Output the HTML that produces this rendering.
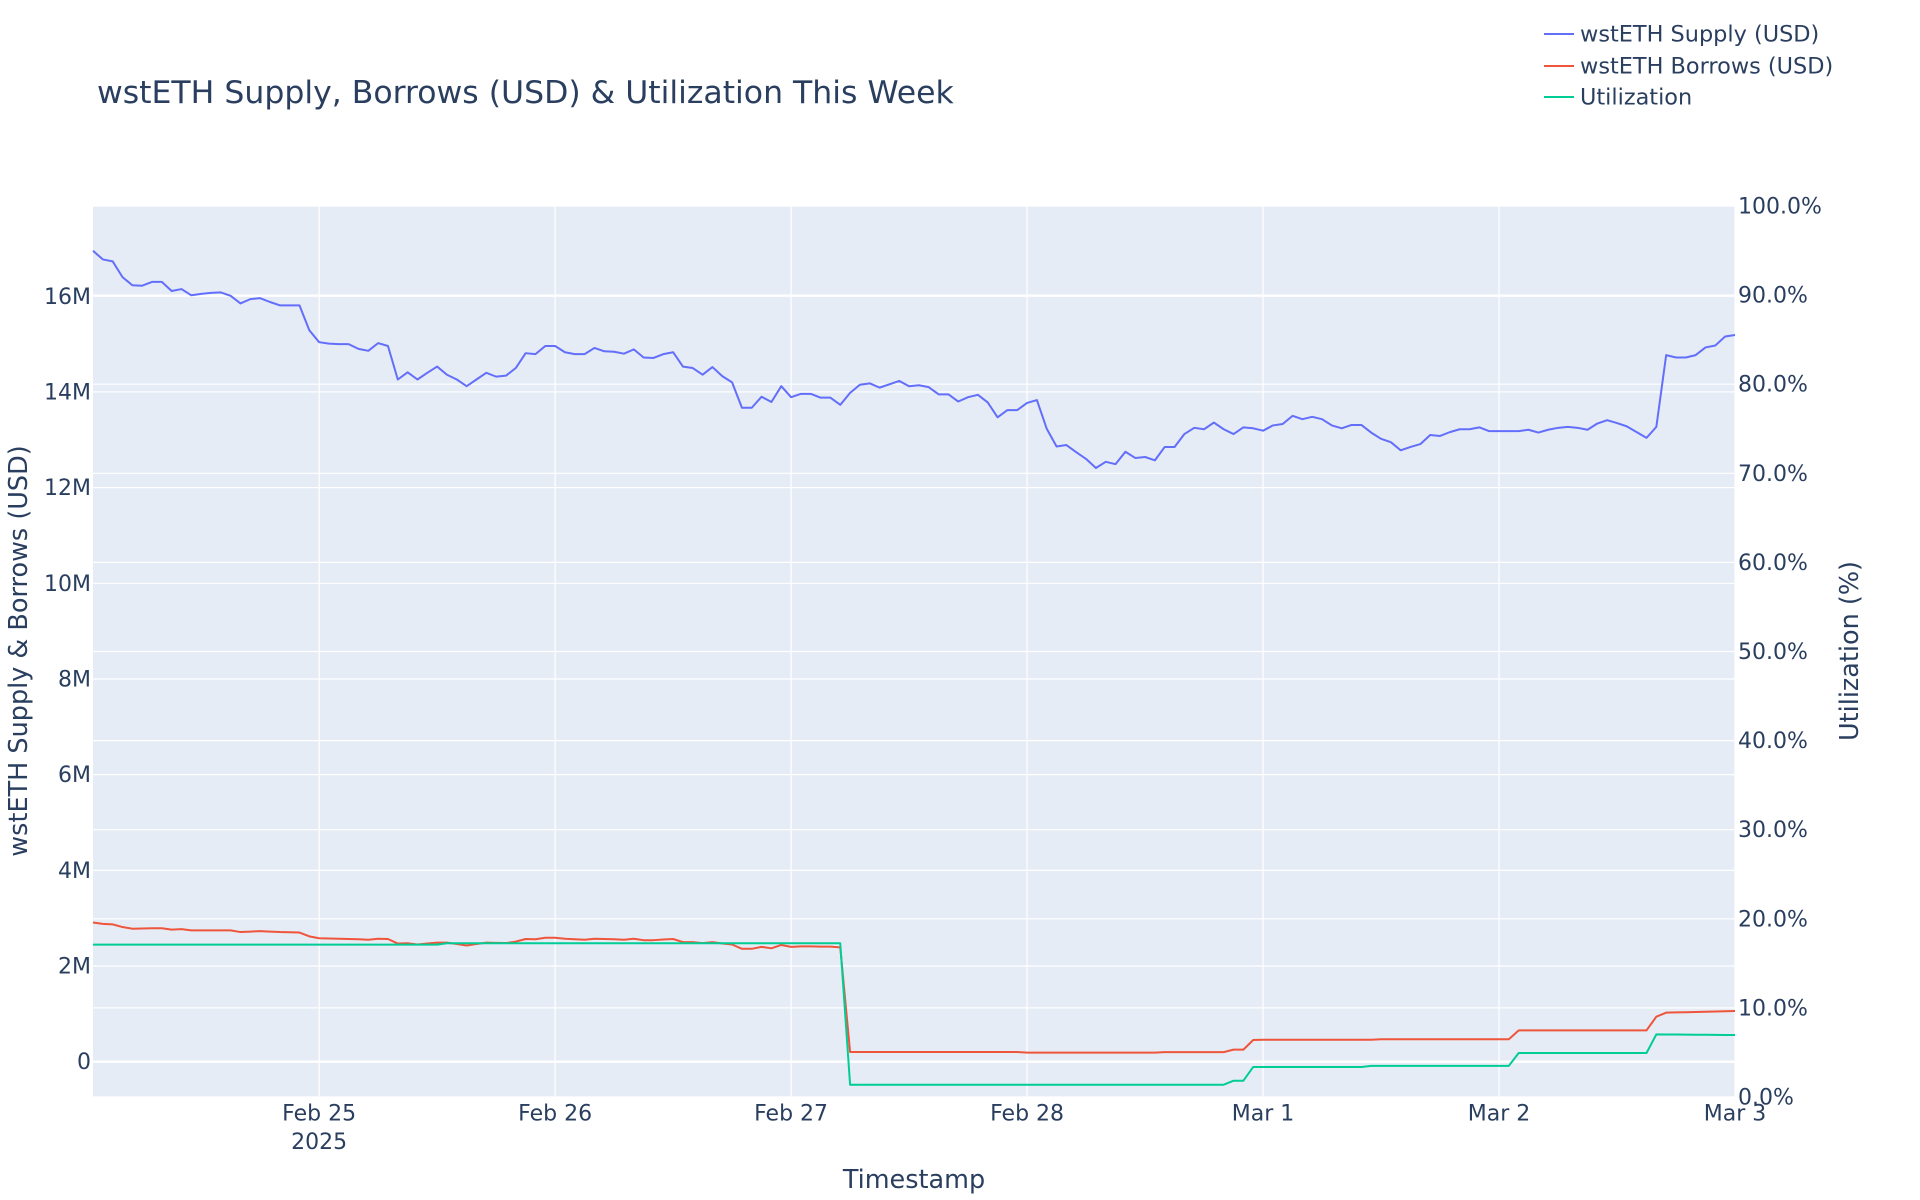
<!DOCTYPE html>
<html><head><meta charset="utf-8"><title>wstETH Supply, Borrows & Utilization</title>
<style>
html,body{margin:0;padding:0;background:#fff;}
svg{display:block;font-family:"DejaVu Sans","Liberation Sans",Arial,sans-serif;}
</style></head>
<body>
<svg id="chart" width="1920" height="1200" viewBox="0 0 1920 1200" xmlns="http://www.w3.org/2000/svg">
  <rect x="0" y="0" width="1920" height="1200" fill="#fff"/>
  <rect x="93" y="206" width="1642" height="891" fill="#E5ECF6"/>
  <g id="grid"></g>
  <g id="series"></g>
  <g id="axes"></g>
  <text x="97" y="103" font-size="31.5" fill="#2a3f5f">wstETH Supply, Borrows (USD) &amp; Utilization This Week</text>
  <text x="914" y="1188" font-size="25.5" fill="#2a3f5f" text-anchor="middle">Timestamp</text>
  <text x="0" y="0" font-size="25.5" fill="#2a3f5f" text-anchor="middle" transform="translate(27,651) rotate(-90)">wstETH Supply &amp; Borrows (USD)</text>
  <text x="0" y="0" font-size="25.5" fill="#2a3f5f" text-anchor="middle" transform="translate(1858,651) rotate(-90)">Utilization (%)</text>
  <g>
    <g>
      <line x1="1544" y1="34" x2="1574" y2="34" stroke="#636efa" stroke-width="2"/>
      <text x="1580" y="41.5" font-size="22.4" fill="#2a3f5f">wstETH Supply (USD)</text>
    </g>
    <g>
      <line x1="1544" y1="66" x2="1574" y2="66" stroke="#EF553B" stroke-width="2"/>
      <text x="1580" y="73.5" font-size="22.4" fill="#2a3f5f">wstETH Borrows (USD)</text>
    </g>
    <g>
      <line x1="1544" y1="97" x2="1574" y2="97" stroke="#00cc96" stroke-width="2"/>
      <text x="1580" y="104.5" font-size="22.4" fill="#2a3f5f">Utilization</text>
    </g>
  </g>
</svg>
<script>
// Hourly data starting Feb 24 01:00 (index = hours since start)
const supplyM = [16.95,16.77,16.73,16.40,16.23,16.22,16.30,16.30,16.11,16.15,16.02,16.05,16.07,16.08,16.01,15.85,15.94,15.96,15.88,15.81,15.81,15.81,15.29,15.04,15.01,15.00,15.00,14.90,14.86,15.02,14.96,14.26,14.41,14.26,14.40,14.53,14.36,14.26,14.12,14.26,14.40,14.32,14.34,14.50,14.81,14.79,14.96,14.96,14.83,14.79,14.79,14.92,14.85,14.84,14.80,14.89,14.72,14.71,14.79,14.83,14.53,14.50,14.36,14.52,14.33,14.20,13.67,13.67,13.90,13.79,14.12,13.89,13.96,13.96,13.88,13.88,13.73,13.98,14.15,14.18,14.09,14.16,14.23,14.12,14.14,14.10,13.95,13.95,13.80,13.89,13.94,13.78,13.47,13.62,13.62,13.77,13.83,13.23,12.86,12.89,12.74,12.60,12.41,12.54,12.49,12.75,12.62,12.64,12.57,12.85,12.85,13.12,13.25,13.22,13.36,13.22,13.12,13.26,13.24,13.19,13.30,13.33,13.50,13.43,13.48,13.43,13.30,13.24,13.31,13.31,13.15,13.02,12.95,12.78,12.85,12.91,13.10,13.08,13.16,13.22,13.22,13.26,13.18,13.18,13.18,13.18,13.21,13.15,13.21,13.25,13.27,13.25,13.21,13.34,13.41,13.35,13.28,13.16,13.04,13.27,14.77,14.72,14.72,14.77,14.93,14.97,15.16,15.19];
const borrowsM = [2.91,2.88,2.87,2.815,2.78,2.785,2.79,2.79,2.76,2.77,2.745,2.745,2.745,2.745,2.745,2.71,2.72,2.73,2.72,2.71,2.705,2.70,2.62,2.58,2.575,2.57,2.565,2.56,2.55,2.57,2.565,2.47,2.475,2.45,2.47,2.49,2.49,2.46,2.43,2.46,2.49,2.485,2.48,2.51,2.565,2.56,2.59,2.59,2.57,2.56,2.55,2.57,2.565,2.56,2.55,2.57,2.54,2.54,2.555,2.565,2.50,2.50,2.48,2.50,2.47,2.45,2.36,2.36,2.40,2.37,2.44,2.40,2.41,2.41,2.405,2.405,2.39,
0.203,0.203,0.203,0.203,0.203,0.203,0.203,0.203,0.203,0.203,0.203,0.203,0.203,0.203,0.203,0.203,0.203,0.203,
0.19,0.19,0.19,0.19,0.19,0.19,0.19,0.19,0.19,0.19,0.19,0.19,0.19,0.19,
0.20,0.20,0.20,0.20,0.20,0.20,0.20,
0.252,0.252,0.454,
0.458,0.458,0.458,0.458,0.458,0.458,0.458,0.458,0.458,0.458,0.458,0.458,
0.47,0.47,0.47,0.47,0.47,0.47,0.47,0.47,0.47,0.47,0.47,0.47,0.47,0.47,
0.655,0.655,0.655,0.655,0.655,0.655,0.655,0.655,0.655,0.655,0.655,0.655,0.655,0.655,
0.941,1.025,1.03,1.035,1.04,1.045,1.05,1.055,1.06];
const utilPct = [17.1,17.1,17.1,17.1,17.1,17.1,17.1,17.1,17.1,17.1,17.1,17.1,17.1,17.1,17.1,17.1,17.1,17.1,17.1,17.1,17.1,17.1,17.1,17.1,17.1,17.1,17.1,17.1,17.1,17.1,17.1,17.1,17.1,17.1,17.1,17.1,
17.25,17.25,17.25,17.25,17.25,17.25,17.25,17.25,17.25,17.25,17.25,17.25,17.25,17.25,17.25,17.25,17.25,17.25,17.25,17.25,17.25,17.25,17.25,17.25,17.25,17.25,17.25,17.25,17.25,17.25,17.25,17.25,17.25,17.25,17.25,17.25,17.25,17.25,17.25,17.25,17.25,
1.38,1.38,1.38,1.38,1.38,1.38,1.38,1.38,1.38,1.38,1.38,1.38,1.38,1.38,1.38,1.38,1.38,1.38,1.38,1.38,1.38,1.38,1.38,1.38,1.38,1.38,1.38,1.38,1.38,1.38,1.38,1.38,1.38,1.38,1.38,1.38,1.38,1.38,1.38,
1.83,1.83,
3.37,3.37,3.37,3.37,3.37,3.37,3.37,3.37,3.37,3.37,3.37,3.37,
3.5,3.5,3.5,3.5,3.5,3.5,3.5,3.5,3.5,3.5,3.5,3.5,3.5,3.5,3.5,
4.94,4.94,4.94,4.94,4.94,4.94,4.94,4.94,4.94,4.94,4.94,4.94,4.94,4.94,
7.03,7.02,7.01,7.0,6.99,6.98,6.97,6.96,6.96];
const xTickHours = [23,47,71,95,119,143,167];
const xTickLabels = ["Feb 25","Feb 26","Feb 27","Feb 28","Mar 1","Mar 2","Mar 3"];
const yTickValues = [0,2,4,6,8,10,12,14,16];
const yTickLabels = ["0","2M","4M","6M","8M","10M","12M","14M","16M"];
const y2TickValues = [0,10,20,30,40,50,60,70,80,90,100];

const NS = "http://www.w3.org/2000/svg";
const L=93, R=1735, T=206, B=1097;
const hourPx = (R-L)/167;
const X = h => L + h*hourPx;
const Y = m => 1061.7 - m*47.84;
const Y2 = p => B - p/100*(B-T);
function mk(tag, attrs, parent){const e=document.createElementNS(NS,tag);for(const k in attrs)e.setAttribute(k,attrs[k]);parent.appendChild(e);return e;}
const grid=document.getElementById('grid'), axes=document.getElementById('axes'), series=document.getElementById('series');

y2TickValues.forEach(v=>{
  const g=mk('line',{x1:L,x2:R,y1:Y2(v),y2:Y2(v),stroke:'#fff','stroke-width':1.2},grid);
  
  
  const t=mk('text',{x:1738,y:Y2(v)+7.5,'font-size':22,fill:'#2a3f5f'},axes);
  t.textContent=v.toFixed(1)+'%';
  
  
});
yTickValues.forEach((v,i)=>{
  const g=mk('line',{x1:L,x2:R,y1:Y(v),y2:Y(v),stroke:'#fff','stroke-width':v===0?2.4:1.2},grid);
  
  
  const t=mk('text',{x:91,y:Y(v)+7.5,'font-size':22,fill:'#2a3f5f','text-anchor':'end'},axes);
  t.textContent=yTickLabels[i];
  
  
});
xTickHours.forEach((h,i)=>{
  const g=mk('line',{x1:X(h),x2:X(h),y1:T,y2:B,stroke:'#fff','stroke-width':1.2},grid);
  
  
  const t=mk('text',{x:X(h),y:1120.7,'font-size':22,fill:'#2a3f5f','text-anchor':'middle'},axes);
  t.textContent=xTickLabels[i];
  
  
});
const yr=mk('text',{x:X(23),y:1149,'font-size':22,fill:'#2a3f5f','text-anchor':'middle'},axes);
yr.textContent='2025';



function line(vals, fy, color, name){
  const d=vals.map((v,i)=>(i?'L':'M')+X(i).toFixed(2)+','+fy(v).toFixed(2)).join('');
  const p=mk('path',{d:d,fill:'none',stroke:color,'stroke-width':2,'stroke-linejoin':'round'},series);
  
  
}
line(supplyM, Y, '#636efa', 'supply-line');
line(borrowsM, Y, '#EF553B', 'borrows-line');
line(utilPct, Y2, '#00cc96', 'utilization-line');
</script>
</body></html>
